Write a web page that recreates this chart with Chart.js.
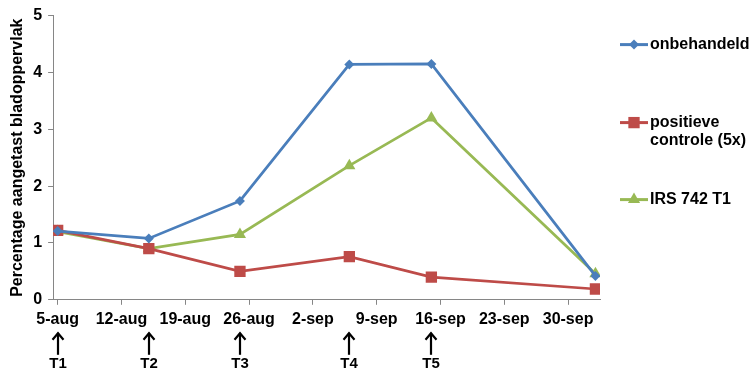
<!DOCTYPE html>
<html><head><meta charset="utf-8">
<script src="https://cdn.jsdelivr.net/npm/chart.js@4"></script>
<style>html,body{margin:0;padding:0;background:#fff}#wrap{width:752px;height:373px}</style>
</head><body><div id="wrap"><canvas id="c" width="752" height="373"></canvas></div>
<script>
// ---- data ----
const dates = ['2013-08-05','2013-08-15','2013-08-25','2013-09-06','2013-09-15','2013-10-03'];
const onbehandeld = [1.21, 1.08, 1.74, 4.14, 4.15, 0.42];
const positieveControle = [1.22, 0.90, 0.50, 0.76, 0.40, 0.19];
const irs742T1 = [1.20, 0.90, 1.15, 2.36, 3.20, 0.46];
const seriesNames = [['onbehandeld'], ['positieve', 'controle (5x)'], ['IRS 742 T1']];
const sprayLabels = ['T1', 'T2', 'T3', 'T4', 'T5'];
const sprayDates = ['2013-08-05', '2013-08-15', '2013-08-25', '2013-09-06', '2013-09-15'];
const xTickDates = ['2013-08-05','2013-08-12','2013-08-19','2013-08-26','2013-09-02','2013-09-09','2013-09-16','2013-09-23','2013-09-30'];
const yTicks = [0, 1, 2, 3, 4, 5];
const yTitle = 'Percentage aangetast bladoppervlak';

// ---- helpers ----
const months = ['jan','feb','mrt','apr','mei','jun','jul','aug','sep','okt','nov','dec'];
const base = Date.UTC(2013, 7, 5);
function dayOf(s) { const p = s.split('-').map(Number); return (Date.UTC(p[0], p[1]-1, p[2]) - base) / 86400000; }
function labelOf(d) { const dt = new Date(base + d * 86400000); return dt.getUTCDate() + '-' + months[dt.getUTCMonth()]; }
const xDays = dates.map(dayOf);
const xTickDays = xTickDates.map(dayOf);
const pts = arr => arr.map((v, i) => ({ x: xDays[i], y: v }));

const BLUE = '#4A7EBB', RED = '#BE4B48', GREEN = '#98B954';
const FONT = "'Liberation Sans', Arial, sans-serif";
const styles = [
  { color: BLUE, shape: 'rectRot', r: 5 },
  { color: RED, shape: 'rect', r: 8 },
  { color: GREEN, shape: 'triangle', r: 7 }
];

function drawMarker(ctx, shape, x, y, r, color) {
  ctx.save();
  ctx.fillStyle = color;
  ctx.beginPath();
  if (shape === 'rect') {
    const s = Math.SQRT1_2 * r;
    ctx.rect(x - s, y - s, 2 * s, 2 * s);
  } else if (shape === 'rectRot') {
    ctx.moveTo(x, y - r); ctx.lineTo(x + r, y); ctx.lineTo(x, y + r); ctx.lineTo(x - r, y); ctx.closePath();
  } else {
    const w = r * Math.sqrt(3) / 2;
    ctx.moveTo(x, y - r); ctx.lineTo(x + w, y + r / 2); ctx.lineTo(x - w, y + r / 2); ctx.closePath();
  }
  ctx.fill();
  ctx.restore();
}

const extras = {
  id: 'extras',
  afterDraw(chart) {
    const ctx = chart.ctx, ca = chart.chartArea, xs = chart.scales.x;
    // legend
    const ly = [ca.top + 29, ca.top + 107, ca.top + 184];
    const lx = ca.right + 20;
    ctx.save();
    ctx.font = 'bold 16px ' + FONT;
    ctx.textBaseline = 'middle';
    ctx.textAlign = 'left';
    ctx.fillStyle = '#000';
    seriesNames.forEach((lines, i) => {
      const st = styles[i];
      ctx.strokeStyle = st.color;
      ctx.lineWidth = 3;
      ctx.beginPath(); ctx.moveTo(lx, ly[i]); ctx.lineTo(lx + 28, ly[i]); ctx.stroke();
      drawMarker(ctx, st.shape, lx + 14, ly[i], st.r, st.color);
      lines.forEach((t, j) => ctx.fillText(t, lx + 30, ly[i] + j * 18));
    });
    // spray arrows
    ctx.strokeStyle = '#000';
    ctx.lineWidth = 2.2;
    ctx.textAlign = 'center';
    ctx.font = 'bold 15px ' + FONT;
    sprayDates.forEach((d, i) => {
      const x = Math.round(xs.getPixelForValue(dayOf(d)));
      const y0 = ca.bottom + 33, y1 = ca.bottom + 55;
      ctx.beginPath(); ctx.moveTo(x, y1); ctx.lineTo(x, y0); ctx.stroke();
      ctx.beginPath(); ctx.moveTo(x - 5.5, y0 + 7); ctx.lineTo(x, y0 + 0.5); ctx.lineTo(x + 5.5, y0 + 7); ctx.stroke();
      ctx.fillText(sprayLabels[i], x, ca.bottom + 64);
    });
    ctx.restore();
  }
};

const ds = (label, data, st) => ({
  label, data: pts(data), borderColor: st.color, backgroundColor: st.color,
  borderWidth: 2.75, pointStyle: st.shape, pointRadius: st.r, pointHoverRadius: st.r,
  pointBorderWidth: 0, tension: 0
});

new Chart(document.getElementById('c'), {
  type: 'line',
  data: {
    datasets: [
      ds('onbehandeld', onbehandeld, styles[0]),
      ds('positieve controle (5x)', positieveControle, styles[1]),
      ds('IRS 742 T1', irs742T1, styles[2])
    ]
  },
  options: {
    responsive: false, animation: false, devicePixelRatio: 1,
    layout: { padding: { left: 3, right: 152, top: 10, bottom: 39 } },
    plugins: { legend: { display: false }, tooltip: { enabled: false } },
    scales: {
      x: {
        type: 'linear', min: -0.5, max: 59.5,
        afterBuildTicks: s => { s.ticks = xTickDays.map(v => ({ value: v })); },
        ticks: { callback: v => labelOf(v), color: '#000', font: { family: FONT, size: 16, weight: 'bold' }, padding: 5, maxRotation: 0, autoSkip: false },
        grid: { drawOnChartArea: false, tickLength: 5, color: '#868686' },
        border: { color: '#868686', width: 1 }
      },
      y: {
        min: 0, max: 5,
        afterBuildTicks: s => { s.ticks = yTicks.map(v => ({ value: v })); },
        ticks: { color: '#000', font: { family: FONT, size: 16, weight: 'bold' }, padding: 6 },
        grid: { drawOnChartArea: false, tickLength: 5, color: '#868686' },
        border: { color: '#868686', width: 1 },
        title: { display: true, text: yTitle, color: '#000', font: { family: FONT, size: 16, weight: 'bold' }, padding: { top: 5, bottom: 0 } }
      }
    }
  },
  plugins: [extras]
});
</script>
</body></html>
